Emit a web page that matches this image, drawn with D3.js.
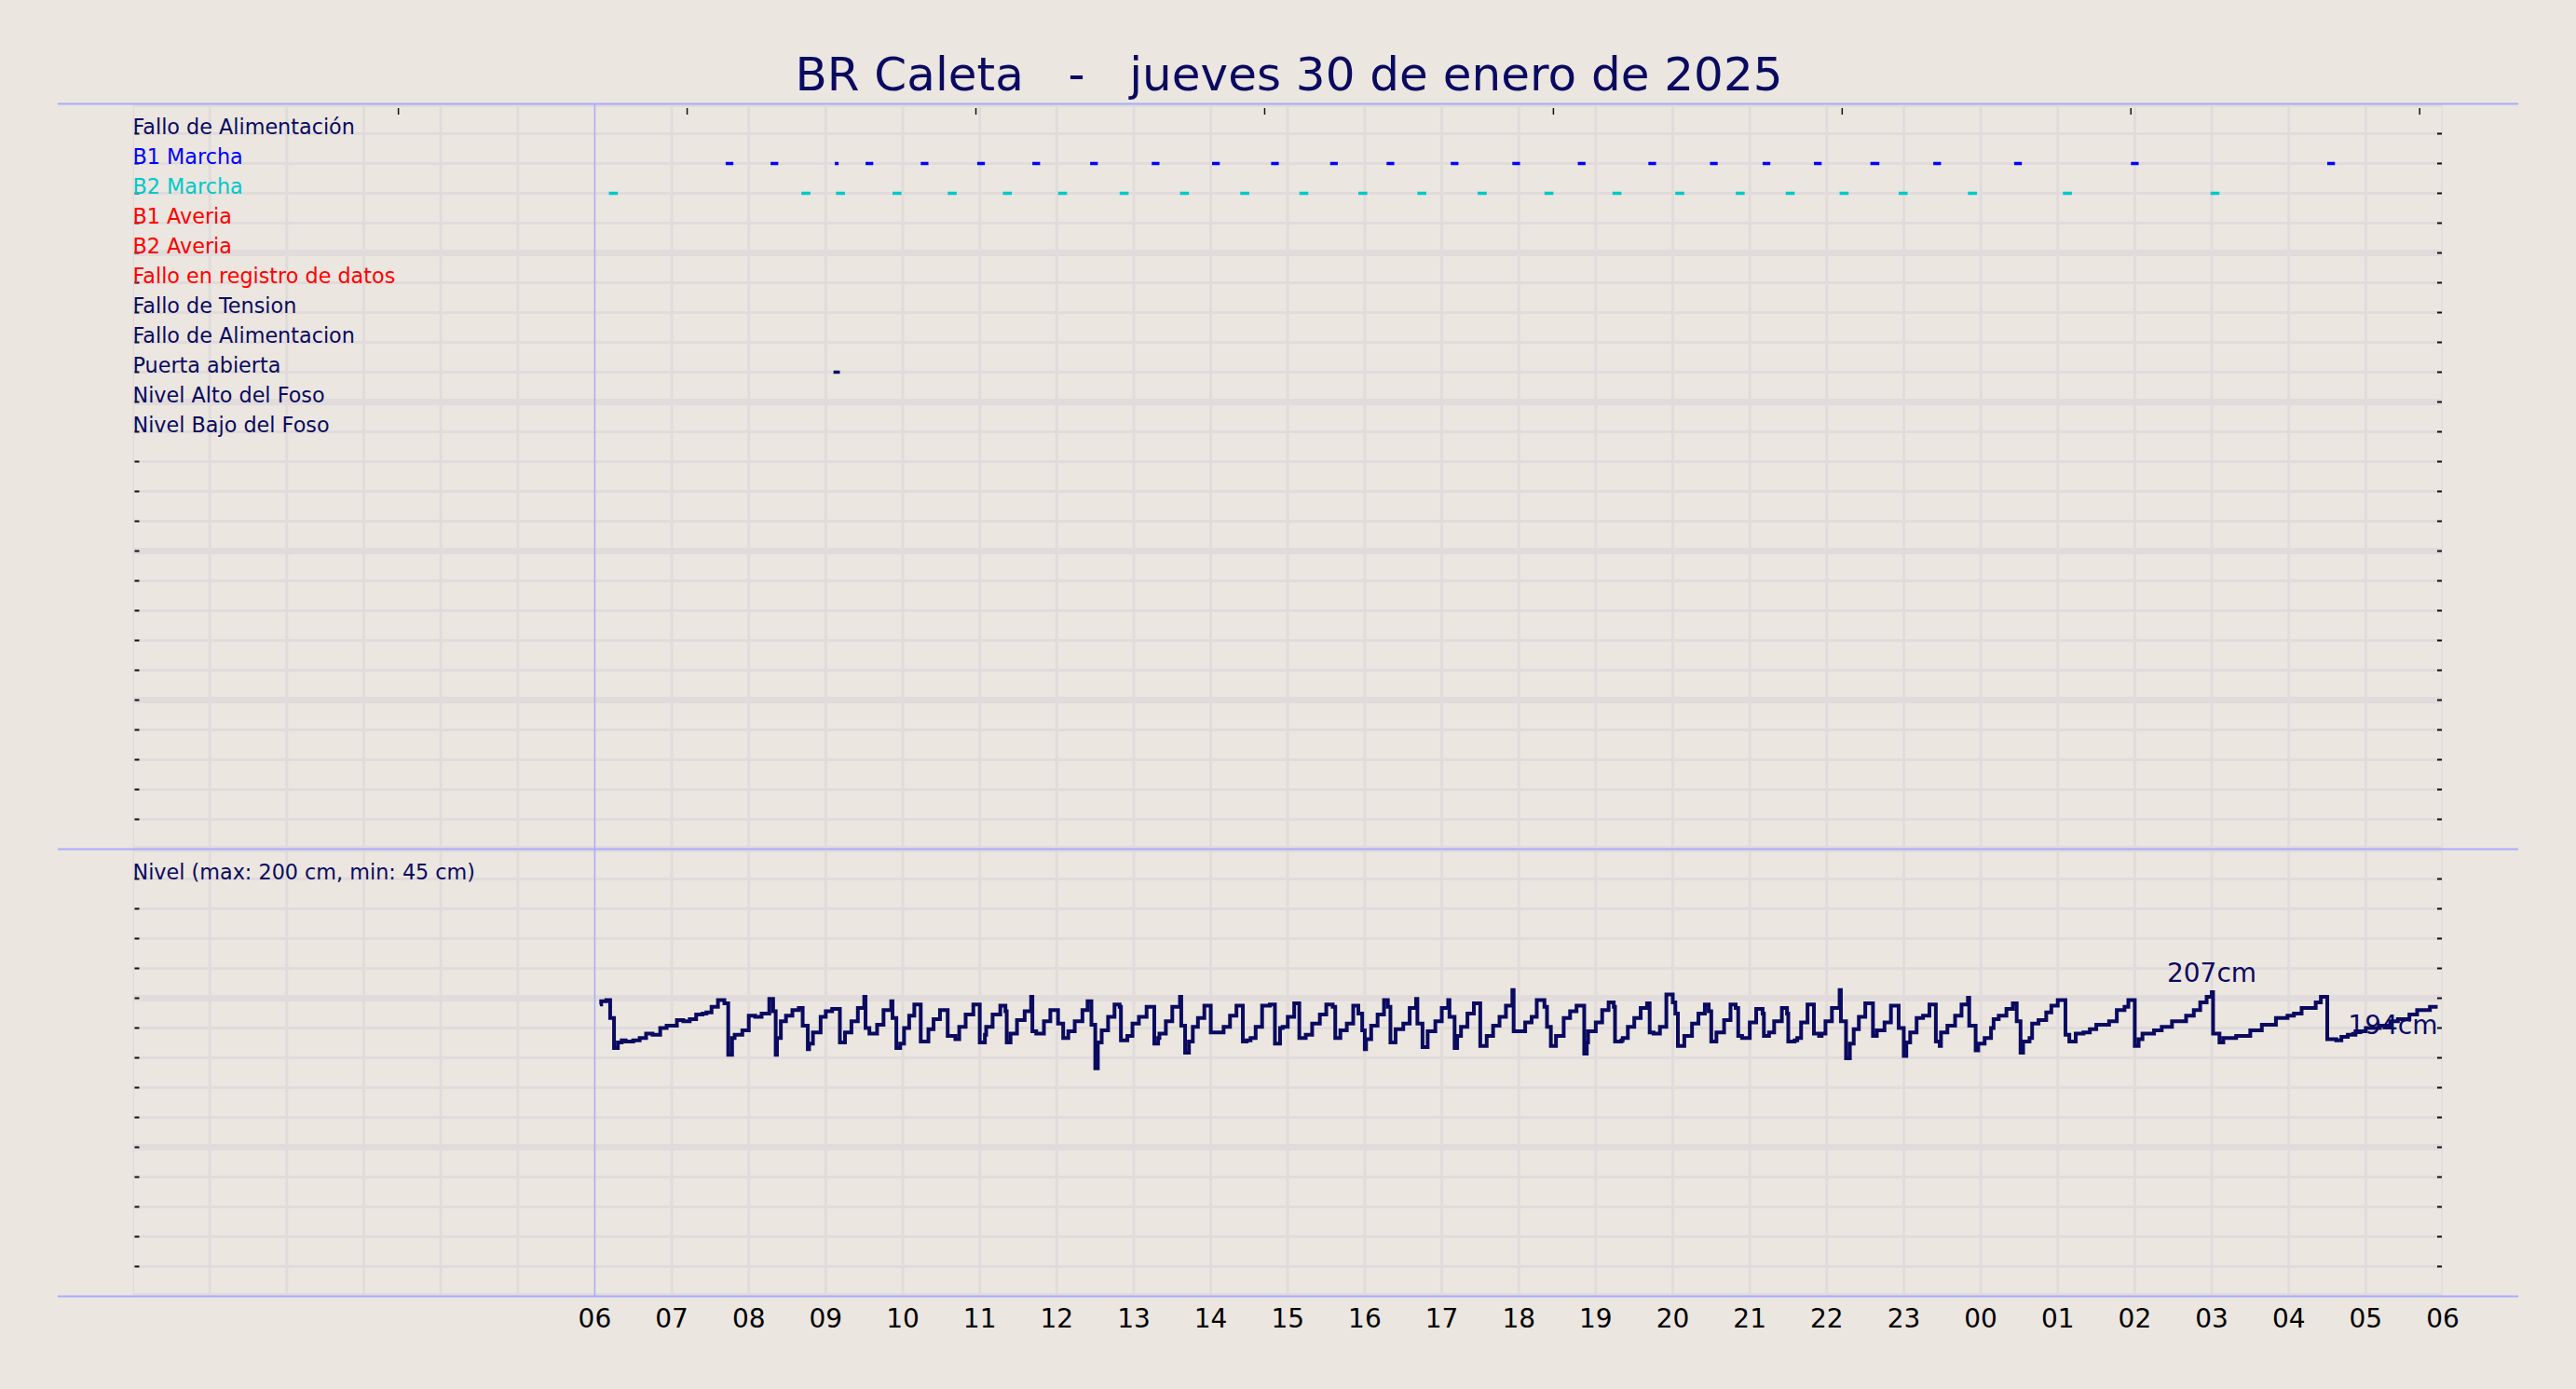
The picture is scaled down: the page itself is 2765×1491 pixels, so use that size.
<!DOCTYPE html>
<html>
<head>
<meta charset="utf-8">
<script src="https://cdnjs.cloudflare.com/ajax/libs/d3/7.8.5/d3.min.js"></script>
<style>
  html, body { margin: 0; padding: 0; background: #ebe6e0; }
  svg { display: block; font-family: "DejaVu Sans", sans-serif; }
</style>
</head>
<body>
<div id="chart"></div>
<script>
// ---- data ----
const title = "BR Caleta   -   jueves 30 de enero de 2025";

const rowLabels = ["Fallo de Alimentación", "B1 Marcha", "B2 Marcha", "B1 Averia", "B2 Averia",
  "Fallo en registro de datos", "Fallo de Tension", "Fallo de Alimentacion", "Puerta abierta",
  "Nivel Alto del Foso", "Nivel Bajo del Foso"];
const rowColors = ["#0a0a60", "#0000ff", "#00c8c8", "#ff0000", "#ff0000",
  "#ff0000", "#0a0a60", "#0a0a60", "#0a0a60", "#0a0a60", "#0a0a60"];

// pump 1 running (row 2)
const b1Start = ["07:42","08:17","09:07","09:31","10:14","10:58","11:41","12:26","13:14","14:01","14:47","15:33",
  "16:17","17:07","17:55","18:46","19:41","20:29","21:10","21:50","22:34","23:23","00:26","01:57","04:30"];
const b1End   = ["07:48","08:23","09:10","09:37","10:20","11:04","11:47","12:32","13:20","14:07","14:53","15:39",
  "16:23","17:13","18:01","18:52","19:47","20:35","21:16","21:56","22:41","23:29","00:32","02:03","04:36"];

// pump 2 running (row 3)
const b2Start = ["06:11","08:41","09:08","09:52","10:35","11:18","12:01","12:49","13:36","14:23","15:09","15:55",
  "16:41","17:28","18:20","19:13","20:02","20:49","21:28","22:10","22:56","23:50","01:04","02:59"];
const b2End   = ["06:18","08:48","09:15","09:59","10:42","11:25","12:08","12:56","13:43","14:30","15:16","16:02",
  "16:48","17:35","18:27","19:20","20:09","20:56","21:35","22:17","23:03","23:57","01:11","03:06"];

// door open (row 9)
const doorStart = ["09:06"];
const doorEnd = ["09:11"];

const levelLabel = "Nivel (max: 200 cm, min: 45 cm)";
const levelTimes = ["06:04","06:05","06:09","06:12","06:15","06:18","06:21","06:24","06:30","06:35","06:40","06:45",
  "06:51","06:56","07:04","07:09","07:14","07:19","07:24","07:27","07:31","07:36","07:41","07:44","07:47","07:49",
  "07:55","08:00","08:05","08:10","08:16","08:19","08:21","08:22","08:25","08:29","08:34","08:39","08:42","08:46",
  "08:47","08:50","08:56","09:00","09:05","09:11","09:15","09:20","09:25","09:30","09:31","09:34","09:40","09:45",
  "09:51","09:52","09:55","09:58","10:01","10:05","10:09","10:14","10:20","10:24","10:29","10:35","10:41","10:44",
  "10:49","10:55","11:00","11:04","11:05","11:10","11:16","11:20","11:21","11:24","11:29","11:35","11:40","11:41",
  "11:44","11:50","11:55","12:01","12:05","12:09","12:14","12:20","12:24","12:27","12:30","12:32","12:35","12:40",
  "12:45","12:49","12:50","12:55","12:59","13:04","13:10","13:16","13:19","13:20","13:25","13:30","13:36","13:37",
  "13:40","13:43","13:46","13:50","13:55","14:00","14:10","14:15","14:20","14:25","14:28","14:31","14:35","14:40",
  "14:46","14:50","14:54","14:56","15:00","15:05","15:09","15:14","15:19","15:25","15:30","15:35","15:37","15:41",
  "15:46","15:51","15:55","15:58","16:00","16:01","16:05","16:10","16:15","16:18","16:20","16:24","16:30","16:35",
  "16:40","16:41","16:45","16:49","16:55","17:00","17:05","17:06","17:10","17:12","17:15","17:20","17:25","17:30",
  "17:35","17:40","17:45","17:50","17:55","17:56","18:05","18:10","18:14","18:20","18:22","18:25","18:29","18:35",
  "18:40","18:45","18:51","18:53","18:54","19:00","19:05","19:10","19:14","19:15","19:20","19:21","19:25","19:30",
  "19:35","19:40","19:42","19:45","19:50","19:55","20:00","20:02","20:04","20:09","20:15","20:20","20:25","20:28",
  "20:30","20:34","20:40","20:45","20:49","20:51","20:54","21:00","21:05","21:10","21:11","21:15","21:19","21:25",
  "21:29","21:30","21:35","21:37","21:40","21:45","21:50","21:54","21:56","21:59","22:04","22:10","22:11","22:15",
  "22:18","22:21","22:25","22:30","22:36","22:39","22:45","22:50","22:56","23:00","23:02","23:05","23:10","23:15",
  "23:20","23:25","23:28","23:29","23:34","23:40","23:45","23:50","23:51","23:56","23:58","00:03","00:08","00:10",
  "00:14","00:20","00:25","00:28","00:31","00:33","00:38","00:40","00:45","00:51","00:55","01:00","01:06","01:09",
  "01:14","01:20","01:25","01:30","01:40","01:46","01:52","01:55","02:00","02:03","02:06","02:15","02:21","02:29",
  "02:40","02:46","02:51","02:56","03:00","03:01","03:06","03:09","03:19","03:30","03:39","03:50","03:59","04:04",
  "04:10","04:21","04:25","04:30","04:37","04:41","04:46","04:52","05:00","05:11","05:19","05:25","05:34","05:40",
  "05:50","05:56"];
const levelValues = [196,199,200,184,157,162,164,163,164,166,170,169,
  175,177,182,181,183,187,188,189,194,200,197,151,166,169,
  173,186,185,188,201,190,151,166,181,186,191,193,177,156,
  161,171,185,190,192,162,171,181,193,203,175,170,178,191,
  199,184,157,161,175,186,196,163,174,183,191,168,165,176,
  187,196,162,169,176,187,195,190,162,170,182,190,203,172,
  170,181,191,179,166,172,181,191,199,178,139,162,173,185,
  196,194,164,168,179,185,194,161,166,170,181,194,203,177,
  153,163,176,184,195,171,176,186,195,163,164,166,176,195,
  196,161,175,176,185,197,166,169,179,187,196,194,166,173,
  179,195,188,173,156,165,177,187,200,194,162,174,179,193,
  201,179,158,172,181,193,200,185,157,168,176,188,197,159,
  168,177,185,195,209,172,180,185,200,194,176,159,168,184,
  190,195,152,162,172,180,191,198,194,163,164,166,176,184,
  193,197,171,170,176,205,198,188,159,168,179,188,196,190,
  163,171,182,196,193,168,166,180,192,188,168,171,181,193,
  188,163,164,166,180,196,170,168,170,181,193,209,181,148,
  161,174,185,197,168,173,180,195,175,150,162,171,184,186,
  196,163,159,171,177,186,196,202,177,155,161,166,175,183,
  186,192,197,181,153,163,166,179,182,189,195,200,169,163,
  170,171,174,178,181,191,194,200,159,165,170,173,176,181,
  186,191,198,203,207,170,162,166,168,173,178,184,186,188,
  193,198,203,165,164,167,169,172,175,177,181,183,187,191,
  194,194];
const peakTime = "03:00";

// ticks
const topTickHours = [3.45, 7.2, 10.95, 14.7, 18.45, 22.2, 25.95, 29.7];

// ---- layout ----
const W = 2765, H = 1491;
const navy = "#0a0a60";
const gridColor = "#e1dcdb";
const frameColor = "#aaaaff";

// "HH:MM" -> Date, hours before 06 belong to the next day
function at(s) {
  const [h, m] = s.split(":").map(Number);
  return new Date(2025, 0, h < 6 ? 31 : 30, h, m);
}

const t0 = new Date(2025, 0, 30, 0, 0);
const t6 = new Date(2025, 0, 30, 6, 0);
const tEnd = new Date(2025, 0, 31, 6, 0);

const x = d3.scaleTime().domain([t0, tEnd]).range([142.5, 2622]);
const yRow = d3.scaleLinear().domain([0, 25]).range([111.5, 911.5]);
const yRowB = d3.scaleLinear().domain([0, 15]).range([911.5, 1391.5]);
const yLevel = d3.scaleLinear().domain([-65, 335]).range([1391.5, 911.5]);

const svg = d3.select("#chart").append("svg")
  .attr("width", W)
  .attr("height", H);

svg.append("rect").attr("width", W).attr("height", H).attr("fill", "#ebe6e0");

svg.append("defs").append("clipPath").attr("id", "plot")
  .append("rect")
  .attr("x", x.range()[0]).attr("y", yRow(0))
  .attr("width", x.range()[1] - x.range()[0])
  .attr("height", yRowB(15) - yRow(0));

const grid = svg.append("g").attr("clip-path", "url(#plot)");

// vertical hour grid
const hours = d3.timeHour.range(t0, d3.timeMinute.offset(tEnd, 1)).filter(d => +d !== +t6);
grid.selectAll("line.v")
  .data(hours)
  .enter()
  .append("line")
  .attr("x1", d => x(d)).attr("x2", d => x(d))
  .attr("y1", yRow(0)).attr("y2", yRowB(15))
  .attr("stroke", gridColor)
  .attr("stroke-width", 3);

// horizontal grid, every 5th row thicker
const topRows = d3.range(0, 26);
const botRows = d3.range(0, 16);
grid.selectAll("line.ht")
  .data(topRows)
  .enter()
  .append("line")
  .attr("x1", x.range()[0]).attr("x2", x.range()[1])
  .attr("y1", d => yRow(d)).attr("y2", d => yRow(d))
  .attr("stroke", gridColor)
  .attr("stroke-width", d => d % 5 === 0 ? 7 : 3);
grid.selectAll("line.hb")
  .data(botRows)
  .enter()
  .append("line")
  .attr("x1", x.range()[0]).attr("x2", x.range()[1])
  .attr("y1", d => yRowB(d)).attr("y2", d => yRowB(d))
  .attr("stroke", gridColor)
  .attr("stroke-width", d => d % 5 === 0 ? 7 : 3);

// frame lines
[yRow(0), yRow(25), yRowB(15)].forEach(y => {
  svg.append("line")
    .attr("x1", 62).attr("x2", 2703)
    .attr("y1", y).attr("y2", y)
    .attr("stroke", frameColor)
    .attr("stroke-width", 2);
});
svg.append("line")
  .attr("x1", x(t6)).attr("x2", x(t6))
  .attr("y1", yRow(0)).attr("y2", yRowB(15))
  .attr("stroke", frameColor)
  .attr("stroke-width", 1.5);

// small inward ticks on both sides
const tickYs = d3.range(1, 25).map(i => yRow(i)).concat(d3.range(1, 15).map(i => yRowB(i)));
svg.selectAll("line.lt")
  .data(tickYs)
  .enter()
  .append("line")
  .attr("x1", x.range()[0] + 2).attr("x2", x.range()[0] + 7)
  .attr("y1", d => d).attr("y2", d => d)
  .attr("stroke", "#111").attr("stroke-width", 2);
svg.selectAll("line.rt")
  .data(tickYs)
  .enter()
  .append("line")
  .attr("x1", x.range()[1] - 6).attr("x2", x.range()[1] - 1)
  .attr("y1", d => d).attr("y2", d => d)
  .attr("stroke", "#111").attr("stroke-width", 2);

// top ticks
svg.selectAll("line.tt")
  .data(topTickHours)
  .enter()
  .append("line")
  .attr("x1", d => x(d3.timeMinute.offset(t0, Math.round(d * 60))))
  .attr("x2", d => x(d3.timeMinute.offset(t0, Math.round(d * 60))))
  .attr("y1", 116).attr("y2", 123)
  .attr("stroke", "#111").attr("stroke-width", 1.5);

// title
svg.append("text")
  .attr("x", W / 2 + 1).attr("y", 97)
  .attr("text-anchor", "middle")
  .style("white-space", "pre")
  .attr("fill", navy)
  .style("font-size", "50px")
  .text(title);

// row labels
svg.selectAll("text.row")
  .data(rowLabels)
  .enter()
  .append("text")
  .attr("x", x.range()[0])
  .attr("y", (d, i) => yRow(i + 1))
  .attr("fill", (d, i) => rowColors[i])
  .style("font-size", "22.3px")
  .text(d => d);

// event dashes
function drawEvents(starts, ends, row, color) {
  svg.append("g").selectAll("line")
    .data(starts)
    .enter()
    .append("line")
    .attr("x1", d => x(at(d)))
    .attr("x2", (d, i) => x(at(ends[i])))
    .attr("y1", yRow(row)).attr("y2", yRow(row))
    .attr("stroke", color)
    .attr("stroke-width", 3.5);
}
drawEvents(b1Start, b1End, 2, "#0000ff");
drawEvents(b2Start, b2End, 3, "#00c8c8");
drawEvents(doorStart, doorEnd, 9, navy);

// level panel
svg.append("text")
  .attr("x", x.range()[0])
  .attr("y", yRowB(1))
  .attr("fill", navy)
  .style("font-size", "22.3px")
  .text(levelLabel);

const level = levelTimes.map((t, i) => ({ t: at(t), v: levelValues[i] }));

svg.append("path")
  .datum(level)
  .attr("fill", "none")
  .attr("stroke", navy)
  .attr("stroke-width", 4)
  .attr("stroke-linejoin", "miter")
  .attr("d", d3.line().x(d => x(d.t)).y(d => yLevel(d.v)).curve(d3.curveStepAfter));

const peak = level.find(d => +d.t === +at(peakTime));
const last = level[level.length - 1];

svg.append("text")
  .attr("x", x(peak.t)).attr("y", yLevel(peak.v) - 11)
  .attr("text-anchor", "middle")
  .attr("fill", navy)
  .style("font-size", "28px")
  .text(peak.v + "cm");

svg.append("text")
  .attr("x", x(last.t)).attr("y", yLevel(last.v) + 29)
  .attr("text-anchor", "end")
  .attr("fill", navy)
  .style("font-size", "28px")
  .text(last.v + "cm");

// x axis labels 06 .. 06
const labelHours = d3.timeHour.range(t6, d3.timeMinute.offset(tEnd, 1));
svg.selectAll("text.xt")
  .data(labelHours)
  .enter()
  .append("text")
  .attr("x", d => x(d))
  .attr("y", 1425)
  .attr("text-anchor", "middle")
  .attr("fill", "#000")
  .style("font-size", "28px")
  .text(d3.timeFormat("%H"));
</script>
</body>
</html>
